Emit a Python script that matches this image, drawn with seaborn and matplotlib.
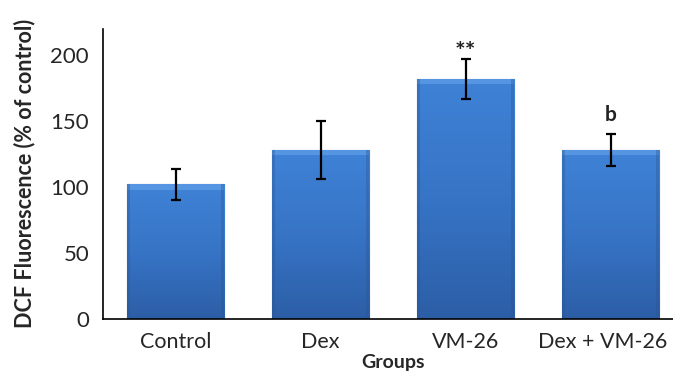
import numpy as np
import matplotlib
matplotlib.use("Agg")
import matplotlib.pyplot as plt
import matplotlib.transforms as mtransforms
import seaborn as sns
from matplotlib.colors import LinearSegmentedColormap

groups = ["Control", "Dex", "VM-26", "Dex + VM-26"]
means = [102, 128, 182, 128]
errors = [12, 22, 15, 12]
annotations = ["", "", "**", "b"]

sns.set_theme(style="white")
plt.rcParams["font.family"] = ["Lato", "DejaVu Sans"]

fig = plt.figure(figsize=(6.73, 3.74), dpi=100)
ax = fig.add_axes([103 / 673, 1 - 319 / 374, 580 / 673, 290.4 / 374])

sns.barplot(x=groups, y=means, color="#3a78c9", width=0.67, ax=ax,
            edgecolor="#2b5a9c", linewidth=0.8, errorbar=None)

# gradient overlay clipped to each bar
cmap = LinearSegmentedColormap.from_list("g", ["#2c5ea6", "#3774c6", "#3f82d6"])
grad = np.linspace(0, 1, 256).reshape(-1, 1)
for p in ax.patches:
    x0, y0 = p.get_x(), p.get_y()
    w, h = p.get_width(), p.get_height()
    im = ax.imshow(grad, extent=[x0, x0 + w, y0, y0 + h], origin="lower",
                   cmap=cmap, aspect="auto", zorder=p.get_zorder() + 0.1)
    im.set_clip_path(p)
    # top bevel highlight
    ax.fill_between([x0, x0 + w], [y0 + h - 4] * 2, [y0 + h] * 2,
                    color="#6aa6ec", alpha=0.55, zorder=p.get_zorder() + 0.2, lw=0)
    # side bevels
    ax.fill_between([x0, x0 + 0.02], [y0] * 2, [y0 + h] * 2,
                    color="#2a5590", alpha=0.35, zorder=p.get_zorder() + 0.2, lw=0)
    ax.fill_between([x0 + w - 0.02, x0 + w], [y0] * 2, [y0 + h] * 2,
                    color="#2a5590", alpha=0.35, zorder=p.get_zorder() + 0.2, lw=0)

ax.errorbar(x=np.arange(len(groups)), y=means, yerr=errors, fmt="none",
            ecolor="black", elinewidth=1.6, capsize=3.5, capthick=1.6, zorder=5)

gap = {"**": -1, "b": 10}
fsz = {"**": 18, "b": 15}
for i, (m, e, a) in enumerate(zip(means, errors, annotations)):
    if a:
        ax.text(i, m + e + gap.get(a, 5), a, ha="center", va="baseline",
                fontsize=fsz.get(a, 15), fontweight="bold", color="#222222", zorder=6)

ax.set_xlim(-0.5, 3.5)
ax.set_ylim(0, 220)
ax.set_yticks([0, 50, 100, 150, 200])
ax.set_xticks([-0.5, 0.5, 1.5, 2.5, 3.5])
ax.set_xticklabels([])
ax.set_xticks(np.arange(len(groups)), minor=True)
ax.set_xticklabels(groups, minor=True, fontsize=15.5)
ax.tick_params(axis="x", which="minor", length=0, pad=9)
ax.tick_params(axis="x", which="major", direction="out", length=6, width=1.2, color="black")
ax.tick_params(axis="y", direction="out", length=6, width=1.2, color="black", labelsize=16, pad=4)

# nudge the last category label left so it fits inside the figure
last = ax.get_xticklabels(minor=True)[-1]
last.set_transform(last.get_transform() + mtransforms.ScaledTranslation(-8 / 100, 0, fig.dpi_scale_trans))

for s in ["top", "right"]:
    ax.spines[s].set_visible(False)
for s in ["left", "bottom"]:
    ax.spines[s].set_color("black")
    ax.spines[s].set_linewidth(1.2)

ax.set_xlabel("Groups", fontsize=14, fontweight="bold", labelpad=2)
ax.set_ylabel("DCF Fluorescence (% of control)", fontsize=15.5, fontweight="bold", labelpad=11)

fig.savefig("out.png", dpi=100)
